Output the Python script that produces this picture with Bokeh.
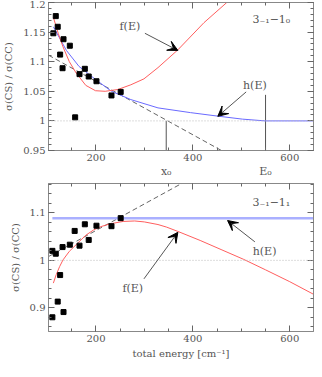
from bokeh.plotting import figure
from bokeh.models import (Range1d, FixedTicker, LinearAxis, CustomJSTickFormatter,
                          Label, Arrow, VeeHead, Span)
from bokeh.layouts import column
from bokeh.embed import file_html
from bokeh.resources import INLINE

# ---------------- data ----------------
# upper panel: 3_-1 - 1_0
top_E = [112, 117, 121, 126, 133, 131, 146, 157, 166, 177, 185, 201, 232, 251]
top_R = [1.148, 1.177, 1.159, 1.112, 1.138, 1.089, 1.127, 1.006, 1.079, 1.088,
         1.075, 1.067, 1.043, 1.049]
top_f_E = [112, 122, 132, 145, 159, 179, 199, 219, 245, 272, 299, 328, 369, 423, 470]
top_f_R = [1.175, 1.148, 1.125, 1.100, 1.081, 1.060, 1.051, 1.050, 1.053, 1.061,
           1.071, 1.090, 1.120, 1.166, 1.200]
top_h_E = [112, 139, 165, 199, 232, 272, 328, 395, 452, 502, 549, 650]
top_h_R = [1.159, 1.119, 1.092, 1.070, 1.050, 1.036, 1.022, 1.014, 1.008, 1.003,
           1.000, 1.000]
top_tan_E = [102, 460]
top_tan_R = [1.111, 0.9495]
vline_E = [345, 550]
vline_names = ["x₀", "E₀"]
vline_top = [1.0, 1.044]
vline_bottom = [0.95, 0.95]

# lower panel: 3_-1 - 1_1
bot_E = [110, 110, 117, 121, 126, 131, 133, 146, 156, 166, 177, 185, 201, 232, 251]
bot_R = [0.880, 1.020, 1.014, 0.913, 0.969, 1.028, 0.891, 1.033, 1.062, 1.031,
         1.076, 1.043, 1.073, 1.072, 1.089]
bot_f_E = [112, 118, 125, 132, 145, 162, 179, 195, 210, 229, 256, 280, 300, 328,
           346, 369, 415, 460, 505, 550, 600, 650]
bot_f_R = [0.952, 0.970, 0.987, 1.001, 1.019, 1.036, 1.053, 1.064, 1.071, 1.077,
           1.082, 1.083, 1.081, 1.0755, 1.070, 1.061, 1.042, 1.022, 1.002, 0.980,
           0.955, 0.928]
bot_h_E = [110, 650]
bot_h_R = [1.089, 1.089]
bot_tan_E = [102, 400]
bot_tan_R = [1.008, 1.175]

x_major = [200, 400, 600]
x_minor = list(range(100, 651, 50))

FONT = "DejaVu Serif"
GRAY = "#888888"
TXT = "#555555"


def style_axis(ax, show_labels):
    ax.axis_line_color = GRAY
    ax.major_tick_line_color = "#666666"
    ax.minor_tick_line_color = "#666666"
    ax.major_tick_out = 0
    ax.minor_tick_out = 0
    ax.major_tick_in = 6
    ax.minor_tick_in = 3
    ax.major_label_text_font = FONT
    ax.major_label_text_color = TXT
    if show_labels:
        ax.major_label_text_font_size = "10px"
        ax.major_label_standoff = 3
    else:
        ax.major_label_text_font_size = "0px"
        ax.major_label_standoff = 0
        ax.major_label_text_color = None


def make_fig(height, ylim, yticks, yminor, mb_top, mb_bottom):
    p = figure(width=314, height=height, x_range=Range1d(102, 649),
               y_range=Range1d(*ylim), output_backend="svg", toolbar_location=None,
               min_border_left=40, min_border_right=1, min_border_top=mb_top,
               min_border_bottom=mb_bottom)
    p.xgrid.visible = False
    p.ygrid.visible = False
    p.outline_line_color = GRAY
    p.background_fill_color = "white"
    fmt = CustomJSTickFormatter(code="return String(tick);")
    xt = FixedTicker(ticks=x_major, minor_ticks=x_minor)
    yt = FixedTicker(ticks=yticks, minor_ticks=yminor)
    bx = p.below[0]
    ly = p.left[0]
    bx.ticker = xt
    ly.ticker = yt
    ly.formatter = fmt
    style_axis(bx, True)
    style_axis(ly, True)
    ly.axis_label = "σ(CS) / σ(CC)"
    ly.axis_label_text_font = FONT
    ly.axis_label_text_font_size = "10px"
    ly.axis_label_text_font_style = "normal"
    ly.axis_label_text_color = TXT
    ly.axis_label_standoff = 6
    ra = LinearAxis(ticker=yt)
    style_axis(ra, False)
    p.add_layout(ra, "right")
    ta = LinearAxis(ticker=xt)
    style_axis(ta, False)
    p.add_layout(ta, "above")
    p.add_layout(Span(location=1.0, dimension="width", line_color="#bbbbbb",
                      line_dash="1 2", line_width=1))
    return p, bx


def arrow(p, xs, ys, xe, ye):
    p.add_layout(Arrow(end=VeeHead(size=10, fill_color="black", line_color="black",
                                   line_width=1),
                       x_start=xs, y_start=ys, x_end=xe, y_end=ye,
                       line_color="#555555", line_width=1))


def label(p, x, y, text, size="11px"):
    p.add_layout(Label(x=x, y=y, text=text, text_font=FONT, text_font_size=size,
                       text_color=TXT, text_align="center", text_baseline="middle"))


# ---------------- top panel ----------------
yt_top = [0.95, 1.0, 1.05, 1.1, 1.15, 1.2]
ym_top = [round(0.95 + 0.01 * i, 2) for i in range(26)]
p1, bx1 = make_fig(180, (0.95, 1.2), yt_top, ym_top, 2, 30)

# second axis below carrying the x0 / E0 marks
va = LinearAxis(ticker=FixedTicker(ticks=vline_E),
                major_label_overrides={vline_E[i]: vline_names[i] for i in range(2)})
va.axis_line_color = None
va.major_tick_line_color = None
va.minor_tick_line_color = None
va.major_tick_out = 0
va.major_tick_in = 0
va.major_label_standoff = 1
va.major_label_text_font = FONT
va.major_label_text_font_size = "11px"
va.major_label_text_color = TXT
p1.add_layout(va, "below")

p1.line(top_tan_E, top_tan_R, line_color="#666666", line_dash="5 3", line_width=1)
p1.segment(x0=vline_E, y0=vline_bottom, x1=vline_E, y1=vline_top,
           line_color="#555555", line_width=1)
p1.line(top_h_E, top_h_R, line_color="#6a6aff", line_width=1)
p1.line(top_f_E, top_f_R, line_color="#ff5e5e", line_width=1)
p1.scatter(top_E, top_R, marker="square", size=5, color="black")

label(p1, 270, 1.159, "f(E)")
arrow(p1, 301, 1.148, 369, 1.119)
label(p1, 528, 1.059, "h(E)")
arrow(p1, 510, 1.049, 451.5, 1.0077)
label(p1, 562, 1.171, "3₋₁−1₀")

# ---------------- bottom panel ----------------
yt_bot = [0.9, 1.0, 1.1]
ym_bot = [round(0.86 + 0.02 * i, 2) for i in range(16)]
p2, bx2 = make_fig(181, (0.85, 1.162), yt_bot, ym_bot, 3, 30)
bx2.axis_label = "total energy [cm⁻¹]"
bx2.axis_label_text_font = FONT
bx2.axis_label_text_font_size = "10px"
bx2.axis_label_text_font_style = "normal"
bx2.axis_label_text_color = TXT
bx2.axis_label_standoff = 3

p2.line(bot_tan_E, bot_tan_R, line_color="#666666", line_dash="5 3", line_width=1)
p2.line(bot_h_E, bot_h_R, line_color="#aab0ff", line_width=2.5)
p2.line(bot_f_E, bot_f_R, line_color="#ff5e5e", line_width=1)
p2.scatter(bot_E, bot_R, marker="square", size=5, color="black")

label(p2, 562, 1.123, "3₋₁−1₁")
label(p2, 548, 1.018, "h(E)")
arrow(p2, 528, 1.039, 471.6, 1.084)
label(p2, 276, 0.940, "f(E)")
arrow(p2, 299, 0.961, 369, 1.059)

layout = column(p1, p2, spacing=0)
open("out.html", "w").write(file_html(layout, INLINE))
